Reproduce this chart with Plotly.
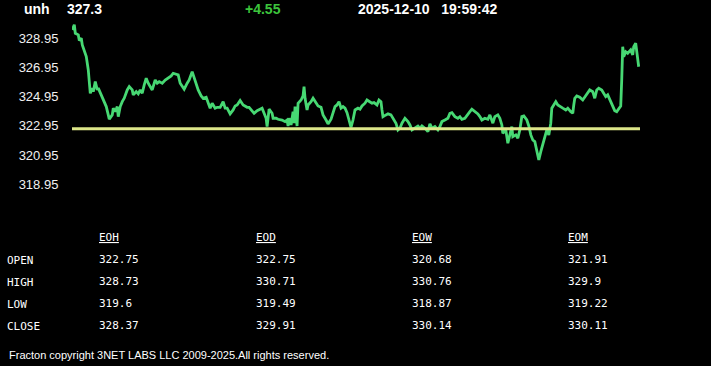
import plotly.graph_objects as go

# ---------------- data ----------------
symbol = "unh"
last_price = "327.3"
change = "+4.55"
stamp = "2025-12-10   19:59:42"
ref_level = 322.75

y_ticks = [328.95, 326.95, 324.95, 322.95, 320.95, 318.95]

elapsed = [
    0, 2, 3, 6, 7, 9, 10, 12, 14, 16, 17, 18, 20, 21, 23, 25, 26, 29, 31, 34,
    36, 37, 40, 41, 43, 45, 46, 48, 50, 52, 55, 57, 60, 61, 64, 66, 68, 70, 72, 74,
    76, 78, 80, 83, 85, 87, 90, 93, 96, 99, 101, 104, 106, 108, 110, 112, 115, 117, 120, 122,
    124, 126, 129, 131, 134, 136, 138, 140, 143,
    145, 148, 151, 153, 155, 158, 161, 163, 165, 168, 171, 173, 175, 177, 180, 182, 185, 187, 190, 192,
    194, 195, 197, 200, 201, 204, 206, 210, 213, 215, 216, 217, 219, 221, 222, 223, 225, 226, 229, 231,
    232, 233, 235, 236, 239, 241, 244, 246, 249, 251, 254, 256, 259, 261, 263, 265, 267, 269, 271, 273,
    275, 277, 279, 281, 283,
    286, 288, 290, 293, 295, 297, 300, 302, 305, 307, 309, 310, 311, 314, 316, 319, 321, 324, 326, 328,
    330, 333, 336, 338, 340, 343, 346, 348, 350, 353, 356, 358, 360, 363, 366, 368, 370, 373, 376, 378,
    380, 383, 386, 388, 390, 393, 396, 398, 400, 403, 406, 408, 410, 413, 416, 418, 420, 421, 423, 426,
    428,
    430, 431, 434, 436, 438, 440, 441, 444, 446, 448, 450, 452, 455, 457, 459, 461, 463, 465, 467, 469,
    471, 472, 474, 475, 477, 479, 480, 482, 484, 486, 489, 491, 494, 496, 499, 501, 502, 503, 505, 508,
    511, 513, 515, 518, 521, 523, 525, 527, 530, 532, 534, 536, 539, 541, 543, 545, 547, 549, 550, 551,
    552, 554, 556, 559, 561, 562, 564, 565, 567,
]

price = [
    329.52, 329.88, 329.29, 329.18, 328.79, 328.95, 328.49, 328.03, 327.69, 326.78,
    325.98, 325.18, 325.53, 325.29, 325.98, 325.41, 325.53, 325.07, 324.72, 324.27,
    323.70, 323.40, 323.70, 324.16, 323.92, 324.27, 323.58, 324.27, 324.61, 324.84,
    325.41, 325.64, 325.41, 325.07, 325.29, 325.14, 325.41, 325.18, 325.75, 326.21,
    325.87, 325.64, 325.41, 326.09, 325.87, 325.98, 325.87, 326.09, 326.21, 326.37,
    326.55, 326.50, 326.44, 325.87, 325.64, 325.46, 325.87, 326.09, 326.66, 326.21,
    325.75, 325.41, 325.00, 324.84, 324.91, 324.50, 324.16, 324.50, 324.16,
    324.22, 324.22, 324.61, 324.16, 324.16, 323.77, 324.04, 324.31, 324.38, 324.68,
    324.38, 324.31, 324.22, 324.22, 323.99, 323.81, 323.99, 324.04, 324.16, 323.81,
    323.47, 322.90, 324.09, 323.81, 323.47, 323.47, 323.40, 323.35, 323.24, 323.35,
    322.94, 323.47, 323.01, 323.92, 323.13, 324.27, 322.94, 324.50, 324.72, 325.00,
    325.64, 324.84, 324.04, 324.38, 324.61, 324.84, 324.50, 324.31, 324.22, 323.70,
    323.35, 323.08, 323.40, 323.77, 324.27, 324.38, 324.61, 324.16, 324.27, 324.16,
    323.85, 323.35, 322.85, 323.35, 324.04,
    324.16, 324.09, 324.31, 324.50, 324.72, 324.61, 324.50, 324.54, 324.38, 324.72,
    324.61, 324.04, 323.58, 323.70, 323.77, 323.70, 323.47, 323.13, 322.67, 322.79,
    323.13, 323.47, 323.24, 323.01, 322.67, 322.79, 322.94, 322.79, 322.94, 322.79,
    322.55, 323.08, 322.79, 322.90, 322.67, 322.90, 323.24, 323.35, 323.47, 323.81,
    323.85, 323.58, 323.47, 323.58, 323.40, 323.47, 323.70, 323.92, 324.09, 323.92,
    323.77, 323.58, 323.35, 323.47, 323.40, 323.70, 323.35, 323.13, 323.58, 323.70,
    323.47,
    323.01, 322.44, 322.67, 321.76, 322.33, 322.90, 322.21, 322.33, 322.10, 322.67,
    323.58, 323.63, 323.35, 322.94, 322.33, 321.98, 321.87, 321.30, 320.61, 321.18,
    321.64, 321.98, 322.44, 322.67, 322.33, 323.13, 324.16, 324.38, 324.61, 324.38,
    324.22, 324.16, 324.04, 324.16, 323.92, 323.81, 324.38, 324.84, 325.00, 324.91,
    324.72, 324.91, 325.07, 325.41, 325.29, 324.84, 325.41, 325.53, 325.41, 325.14,
    324.95, 325.07, 324.61, 324.27, 323.99, 323.92, 324.16, 324.31, 326.09, 328.37,
    327.69, 328.03, 327.92, 328.15, 327.81, 328.37, 328.61, 327.92, 327.00,
]

table_cols = ["EOH", "EOD", "EOW", "EOM"]
table_rows = ["OPEN", "HIGH", "LOW", "CLOSE"]
table_vals = [
    ["322.75", "328.73", "319.6", "328.37"],
    ["322.75", "330.71", "319.49", "329.91"],
    ["320.68", "330.76", "318.87", "330.14"],
    ["321.91", "329.9", "319.22", "330.11"],
]
footer = "Fracton copyright 3NET LABS LLC 2009-2025.All rights reserved."

# ---------------- layout helpers ----------------
W, H = 711, 366
ML, MR, MT, MB = 72, 71, 20, 166
PW, PH = W - ML - MR, H - MT - MB


def px(x):
    return (x - ML) / PW


def py(y):
    return (H - MB - y) / PH


fig = go.Figure()
fig.add_trace(go.Scatter(
    x=elapsed, y=price, mode="lines",
    line=dict(color="#47d873", width=2.8),
    hoverinfo="skip", showlegend=False,
))
fig.add_shape(type="line", xref="paper", yref="y", x0=0, x1=1,
              y0=ref_level, y1=ref_level,
              line=dict(color="#dde689", width=3))

ann = []
hdr_font = dict(family="Arial, Liberation Sans", size=14, color="white")
ann.append(dict(text="<b>" + symbol + "</b>", x=px(24), y=py(9.5), xanchor="left", yanchor="middle", font=hdr_font))
ann.append(dict(text="<b>" + last_price + "</b>", x=px(67), y=py(9.5), xanchor="left", yanchor="middle", font=hdr_font))
ann.append(dict(text="<b>" + change + "</b>", x=px(245), y=py(9.5), xanchor="left", yanchor="middle",
                font=dict(family="Arial, Liberation Sans", size=14, color="#3cc43c")))
ann.append(dict(text="<b>" + stamp.replace(" ", "&nbsp;") + "</b>", x=px(358), y=py(9.5), xanchor="left", yanchor="middle", font=hdr_font))

mono = dict(family="DejaVu Sans Mono, Liberation Mono, monospace", size=11, color="white")
col_x = [99, 256, 412, 568]
row_y = [259, 281, 303, 325]
for cx, name in zip(col_x, table_cols):
    ann.append(dict(text="<u>" + name + "</u>", x=px(cx), y=py(238), xanchor="left", yanchor="middle", font=mono))
for ry, name in zip(row_y, table_rows):
    ann.append(dict(text=name, x=px(7), y=py(ry + 1), xanchor="left", yanchor="middle", font=mono))
for cx, vals in zip(col_x, table_vals):
    for ry, v in zip(row_y, vals):
        ann.append(dict(text=v, x=px(cx), y=py(ry), xanchor="left", yanchor="middle", font=mono))
ann.append(dict(text=footer, x=px(9), y=py(355), xanchor="left", yanchor="middle",
                font=dict(family="Arial, Liberation Sans", size=11, color="white")))

for a in ann:
    a.update(xref="paper", yref="paper", showarrow=False, borderpad=0, borderwidth=0)

fig.update_layout(
    width=W, height=H,
    margin=dict(l=ML, r=MR, t=MT, b=MB, pad=0),
    paper_bgcolor="black", plot_bgcolor="black",
    annotations=ann,
    xaxis=dict(range=[-0.3, 568.3], visible=False, fixedrange=True),
    yaxis=dict(range=[317.87, 330.20], tickvals=y_ticks,
               ticktext=[f"{v:.2f}" for v in y_ticks],
               showgrid=False, zeroline=False, showline=False,
               ticks="outside", ticklen=10, tickcolor="black",
               tickfont=dict(family="Arial, Liberation Sans", size=13, color="#f0f0f0"),
               fixedrange=True),
)
fig.write_html(
    "out.html",
    config={"displayModeBar": False},
    post_script="document.body.style.margin='0';document.body.style.background='black';document.body.style.overflow='hidden';",
)
